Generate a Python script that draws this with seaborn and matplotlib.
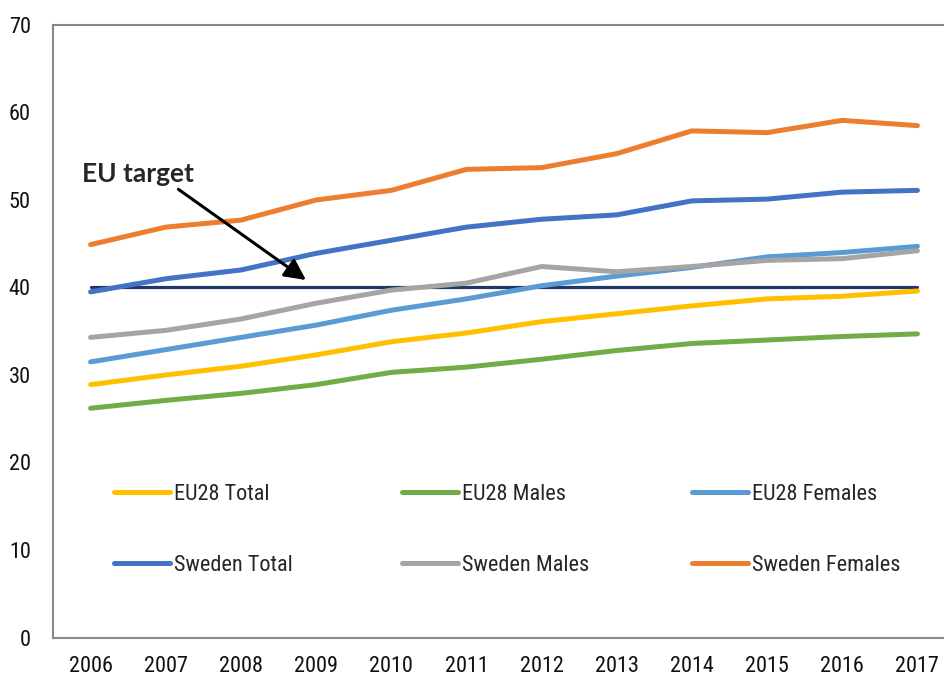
import pandas as pd
import matplotlib.pyplot as plt
from matplotlib import font_manager as fm
import seaborn as sns

years = [2006, 2007, 2008, 2009, 2010, 2011, 2012, 2013, 2014, 2015, 2016, 2017]
eu28_total = [28.9, 30.0, 31.0, 32.3, 33.8, 34.8, 36.1, 37.0, 37.9, 38.7, 39.0, 39.6]
eu28_males = [26.2, 27.1, 27.9, 28.9, 30.3, 30.9, 31.8, 32.8, 33.6, 34.0, 34.4, 34.7]
eu28_females = [31.5, 32.9, 34.3, 35.7, 37.4, 38.7, 40.2, 41.3, 42.3, 43.5, 44.0, 44.7]
sweden_total = [39.5, 41.0, 42.0, 43.9, 45.4, 46.9, 47.8, 48.3, 49.9, 50.1, 50.9, 51.1]
sweden_males = [34.3, 35.1, 36.4, 38.2, 39.7, 40.5, 42.4, 41.8, 42.4, 43.1, 43.3, 44.2]
sweden_females = [44.9, 46.9, 47.7, 50.0, 51.1, 53.5, 53.7, 55.3, 57.9, 57.7, 59.1, 58.5]
eu_target = [40] * len(years)

series = {
    "EU28 Total": eu28_total,
    "EU28 Males": eu28_males,
    "EU28 Females": eu28_females,
    "Sweden Total": sweden_total,
    "Sweden Males": sweden_males,
    "Sweden Females": sweden_females,
}
colors = {
    "EU28 Total": "#FFC000",
    "EU28 Males": "#70AD47",
    "EU28 Females": "#5B9BD5",
    "Sweden Total": "#4472C4",
    "Sweden Males": "#A5A5A5",
    "Sweden Females": "#ED7D31",
}

rows = []
for name, vals in series.items():
    for i, v in enumerate(vals):
        rows.append({"pos": i, "year": years[i], "value": v, "series": name})
df = pd.DataFrame(rows)
target_df = pd.DataFrame({"pos": range(len(years)), "value": eu_target})


def find_narrow_font():
    # look for any condensed / narrow regular face that is installed
    best = None
    for f in fm.fontManager.ttflist:
        fname = f.fname.lower().replace("-", "").replace("_", "")
        name = f.name.lower()
        stretch = str(f.stretch).lower()
        narrow = ("narrow" in name or "condensed" in name or "condensed" in fname
                  or "narrow" in fname or stretch in ("condensed", "extra-condensed", "625", "700"))
        if not narrow or "semi" in fname or "semi" in stretch:
            continue
        if f.style != "normal" or f.weight not in (400, "normal", "regular"):
            continue
        if any(w in fname for w in ("bold", "light", "thin", "medium", "black", "italic", "oblique")):
            continue
        rank = 0 if "liberation" in name else 1 if "roboto" in name else 2 if "noto" in name else 3
        if best is None or rank < best[0]:
            best = (rank, f.fname)
    return best[1] if best else None


sns.set_style("white")
plt.rcParams["font.family"] = ["DejaVu Sans"]

narrow_path = find_narrow_font()
if narrow_path:
    label_font = fm.FontProperties(fname=narrow_path, size=16)
else:
    label_font = fm.FontProperties(family="DejaVu Sans", size=14)
fs = label_font.get_size()

fig = plt.figure(figsize=(9.44, 6.78), dpi=100)
ax = fig.add_axes([53 / 944, 40.5 / 678, 902 / 944, 612.5 / 678])

sns.lineplot(data=target_df, x="pos", y="value", color="#203864", linewidth=2.3,
             ax=ax, legend=False)
sns.lineplot(data=df, x="pos", y="value", hue="series", palette=colors,
             hue_order=list(series.keys()), linewidth=3.6, ax=ax, legend=False,
             solid_capstyle="round")

ax.set_xlim(-0.5, len(years) - 0.5)
ax.set_ylim(0, 70)
ax.set_yticks(range(0, 71, 10))
ax.set_xticks(range(len(years)))
ax.set_xticklabels([str(y) for y in years])
ax.set_xlabel("")
ax.set_ylabel("")
ax.tick_params(axis="x", which="major", length=0, pad=13, colors="#111111")
ax.set_xticks([i - 0.5 for i in range(len(years) + 1)], minor=True)
ax.tick_params(axis="x", which="minor", length=6, width=1.3, color="#888888", direction="out")
ax.tick_params(axis="y", length=6, width=1.3, direction="in", pad=16, colors="#111111")
ax.tick_params(axis="y", color="#888888")
for lbl in ax.get_xticklabels() + ax.get_yticklabels():
    lbl.set_fontproperties(label_font)
for side in ["left", "bottom", "top", "right"]:
    ax.spines[side].set_color("#888888")
    ax.spines[side].set_linewidth(1.5)

ax.annotate("EU target", xy=(306 / 944, 1 - 280 / 678), xycoords="figure fraction",
            xytext=(82 / 944, 1 - 182 / 678), textcoords="figure fraction",
            fontsize=19, fontweight="bold", family=["Lato", "Open Sans", "DejaVu Sans"],
            ha="left", va="baseline",
            arrowprops=dict(arrowstyle="-|>", color="black", lw=2.2,
                            mutation_scale=32, shrinkA=0, shrinkB=0,
                            relpos=(0.82, 0.0)))

# legend: three columns placed like the original, two rows each
columns = [["EU28 Total", "Sweden Total"],
           ["EU28 Males", "Sweden Males"],
           ["EU28 Females", "Sweden Females"]]
col_x = [114, 402, 692]
legends = []
for names, x0 in zip(columns, col_x):
    handles = [plt.Line2D([], [], color=colors[n], linewidth=3.6, solid_capstyle="round")
               for n in names]
    leg = ax.legend(handles, names, loc="upper left", frameon=False,
                    bbox_to_anchor=(x0 / 944, 1 - 484 / 678), bbox_transform=fig.transFigure,
                    borderpad=0, borderaxespad=0, prop=label_font,
                    handlelength=40 / fs, handletextpad=0.2,
                    labelspacing=2.25)
    legends.append(leg)
for leg in legends[:-1]:
    ax.add_artist(leg)

fig.savefig("out.png", dpi=100)
